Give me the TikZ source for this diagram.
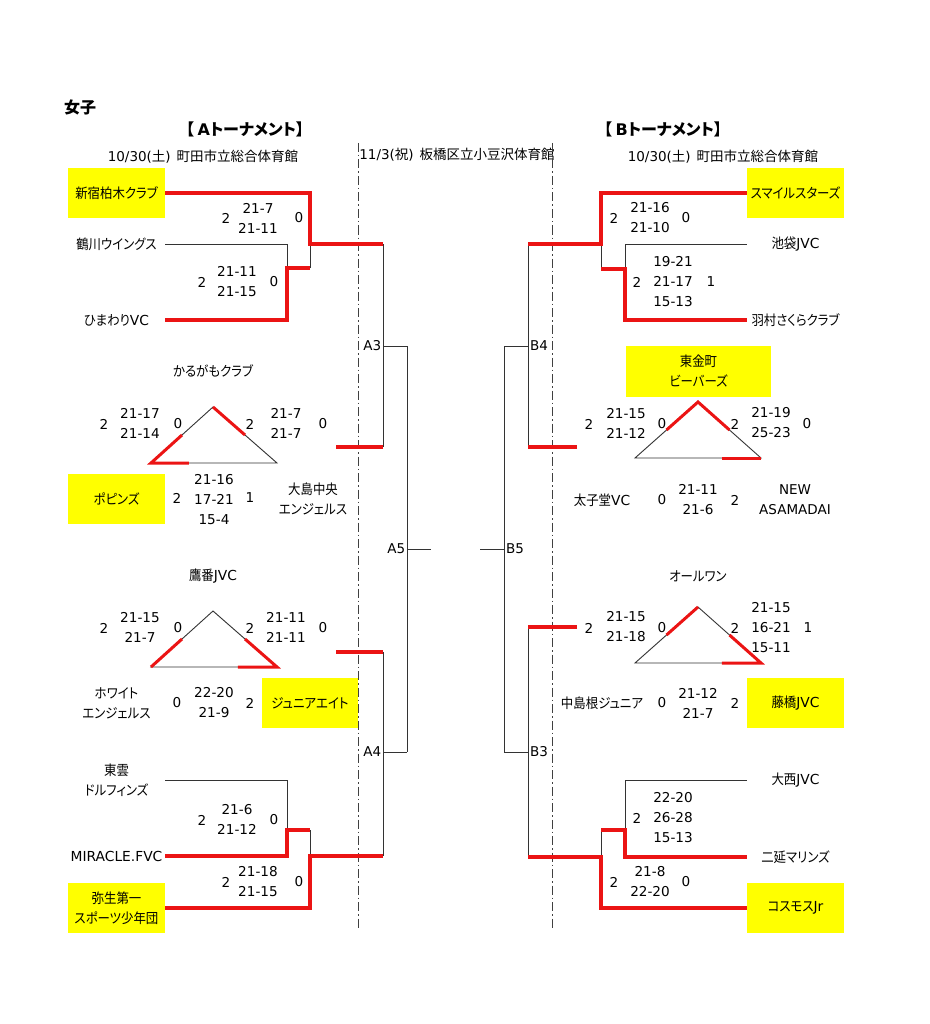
\documentclass[tikz,border=0pt]{standalone}
\usepackage{fontspec}
\setmainfont{Noto Sans CJK JP}[RawFeature=+palt]
\newfontfamily\tn{Noto Sans CJK JP}[RawFeature=+palt, FakeStretch=0.9]
\newfontfamily\lat{DejaVu Sans}
\usetikzlibrary{calc}
\definecolor{boxyellow}{RGB}{255,255,0}
\definecolor{lnred}{RGB}{235,20,20}
\begin{document}
\begin{tikzpicture}[x=1pt,y=-1pt,
  every node/.style={font=\fontsize{13.5}{20}\selectfont, inner sep=0pt, align=center},
  nm/.style={font=\tn\fontsize{13.8}{20}\selectfont},
  team/.style={nm, minimum width=97pt, minimum height=50pt},
  win/.style={team, fill=boxyellow},
  sc/.style={font=\lat\fontsize{13.6}{20}\selectfont},
  hd/.style={font=\fontsize{16}{20}\selectfont\bfseries},
  ln/.style={line width=0.9pt, black!80},
  rl/.style={line width=3.5pt, lnred},
  dd/.style={line width=1pt, black!75, dash pattern=on 9pt off 3pt on 1.5pt off 3pt}]
\useasboundingbox (0,0) rectangle (929,1024);

% headers
\node[hd] (title) at (80,107) {女子};
\node[hd] (ha) at (245,129) {【 {\lat A}トーナメント】};
\node[hd] (hb) at (663,129) {【 {\lat B}トーナメント】};
\node (da) at (203,157) {{\lat 10/30(}土{\lat )}\hspace{6pt}町田市立総合体育館};
\node (db) at (723,157) {{\lat 10/30(}土{\lat )}\hspace{6pt}町田市立総合体育館};
\node (dm) at (457,155) {{\lat 11/3(}祝{\lat )}\hspace{6pt}板橋区立小豆沢体育館};

% dash-dot separators
\coordinate (d1t) at (358,143); \coordinate (d1b) at (358,930);
\coordinate (d2t) at (552,143); \coordinate (d2b) at (552,930);
\draw[dd] (d1t) -- (d1b);
\draw[dd] (d2t) -- (d2b);

% ---------- A side teams ----------
\node[win] (a1) at (116.5,193) {新宿柏木クラブ};
\node[team] (a2) at (116.5,244) {鶴川ウイングス};
\node[team] (a3) at (116.5,320) {ひまわり{\lat VC}};
\node[nm] (a9) at (213,371) {かるがもクラブ};
\node[win] (a4) at (116.5,499) {ポピンズ};
\node[team] (a5) at (313,499) {大島中央\\エンジェルス};
\node[nm] (a10) at (213,576) {鷹番{\lat JVC}};
\node[team] (a11) at (116.5,703) {ホワイト\\エンジェルス};
\node[win, minimum width=96pt] (a12) at (310,703) {ジュニアエイト};
\node[team] (a6) at (116.5,780) {東雲\\ドルフィンズ};
\node[team] (a7) at (116.5,856) {\lat MIRACLE.FVC};
\node[win] (a8) at (116.5,908) {弥生第一\\スポーツ少年団};

% ---------- B side teams ----------
\node[win] (b1) at (795.5,193) {スマイルスターズ};
\node[team] (b2) at (795.5,244) {池袋{\lat JVC}};
\node[team] (b3) at (795.5,320) {羽村さくらクラブ};
\node[win, minimum width=145pt, minimum height=51pt] (b4) at (698.5,371.5) {東金町\\ビーバーズ};
\node[nm] (b5) at (602,500) {太子堂{\lat VC}};
\node[font=\lat\fontsize{13.5}{20}\selectfont] (b9) at (795,500) {NEW\\ASAMADAI};
\node[nm] (b10) at (698,576) {オールワン};
\node[nm] (b11) at (602,703) {中島根ジュニア};
\node[win] (b12) at (795.5,703) {藤橋{\lat JVC}};
\node[team] (b6) at (795.5,780) {大西{\lat JVC}};
\node[team] (b7) at (795.5,857) {二延マリンズ};
\node[win] (b8) at (795.5,908) {コスモス{\lat Jr}};

% ---------- A bracket coordinates ----------
\coordinate (j1) at (287,268); \coordinate (j1r) at (310,268); \coordinate (j2) at (310,244);
\coordinate (k1) at (287,830); \coordinate (k1r) at (310,830); \coordinate (k2) at (310,856);
\coordinate (A3t) at (383,244); \coordinate (A3m) at (383,346); \coordinate (A3b) at (383,447);
\coordinate (A4t) at (383,652); \coordinate (A4m) at (383,752); \coordinate (A4b) at (383,856);
\coordinate (A5t) at (407,346); \coordinate (A5m) at (407,549); \coordinate (A5b) at (407,752);
\coordinate (A5e) at (431,549);
\coordinate (ra3) at (336,447); \coordinate (ra4) at (336,652);

% ---------- B bracket coordinates ----------
\coordinate (m1) at (625,269); \coordinate (m1l) at (601,269); \coordinate (m2) at (601,244);
\coordinate (n1) at (625,830); \coordinate (n1l) at (601,830); \coordinate (n2) at (601,857);
\coordinate (B4t) at (528,244); \coordinate (B4m) at (528,346); \coordinate (B4b) at (528,447);
\coordinate (B3t) at (528,627); \coordinate (B3m) at (528,752); \coordinate (B3b) at (528,857);
\coordinate (B5t) at (504,346); \coordinate (B5m) at (504,549); \coordinate (B5b) at (504,752);
\coordinate (B5e) at (480,549);
\coordinate (rb4) at (577,447); \coordinate (rb3) at (577,627);

% black bracket lines
\draw[ln] (a2.east) -| (j1);
\draw[ln] (j1r) -- (j2);
\draw[ln] (a6.east) -| (k1);
\draw[ln] (k1r) -- (k2);
\draw[ln] (A3t) -- (A3b);
\draw[ln] (A4t) -- (A4b);
\draw[ln] (A3m) -- (A5t);
\draw[ln] (A4m) -- (A5b);
\draw[ln] (A5t) -- (A5b);
\draw[ln] (A5m) -- (A5e);
\draw[ln] (b2.west) -| (m1);
\draw[ln] (m1l) -- (m2);
\draw[ln] (b6.west) -| (n1);
\draw[ln] (n1l) -- (n2);
\draw[ln] (B4t) -- (B4b);
\draw[ln] (B3t) -- (B3b);
\draw[ln] (B4m) -- (B5t);
\draw[ln] (B3m) -- (B5b);
\draw[ln] (B5t) -- (B5b);
\draw[ln] (B5m) -- (B5e);

% round labels
\begin{scope}[every node/.append style={font=\lat\fontsize{13.5}{20}\selectfont}]
\node[anchor=east] (lA3) at (381.5,346) {A3};
\node[anchor=east] (lA4) at (381.5,752) {A4};
\node[anchor=east] (lA5) at (405.5,549) {A5};
\node[anchor=west] (lB4) at (530,346) {B4};
\node[anchor=west] (lB3) at (530,752) {B3};
\node[anchor=west] (lB5) at (506,549) {B5};
\end{scope}

% red winner paths
\draw[rl] (a3.east) -| (j1) -- (j1r);
\draw[rl] (a1.east) -| (j2) -- (A3t);
\draw[rl] (a7.east) -| (k1) -- (k1r);
\draw[rl] (a8.east) -| (k2) -- (A4b);
\draw[rl] (ra3) -- (A3b);
\draw[rl] (ra4) -- (A4t);
\draw[rl] (b3.west) -| (m1) -- (m1l);
\draw[rl] (b1.west) -| (m2) -- (B4t);
\draw[rl] (b7.west) -| (n1) -- (n1l);
\draw[rl] (b8.west) -| (n2) -- (B3b);
\draw[rl] (rb4) -- (B4b);
\draw[rl] (rb3) -- (B3t);

% ---------- triangles ----------
\coordinate (t1a) at (213,407); \coordinate (t1l) at (151,463); \coordinate (t1r) at (277,463);
\coordinate (t2a) at (213,611); \coordinate (t2l) at (151,667); \coordinate (t2r) at (277,667);
\coordinate (t3a) at (698,402); \coordinate (t3l) at (635,458); \coordinate (t3r) at (761,458);
\coordinate (t4a) at (698,607); \coordinate (t4l) at (635,663); \coordinate (t4r) at (761,663);
\draw[ln] (t1a) -- (t1l) -- (t1r) -- cycle;
\draw[ln] (t2a) -- (t2l) -- (t2r) -- cycle;
\draw[ln] (t3a) -- (t3l) -- (t3r) -- cycle;
\draw[ln] (t4a) -- (t4l) -- (t4r) -- cycle;
\begin{scope}[rl, line width=3pt]
\draw ($(t1a)!0.5!(t1l)$) -- (t1l) -- ($(t1l)!0.3!(t1r)$);
\draw (t1a) -- ($(t1a)!0.5!(t1r)$);
\draw ($(t2a)!0.5!(t2l)$) -- (t2l);
\draw ($(t2a)!0.5!(t2r)$) -- (t2r) -- ($(t2r)!0.31!(t2l)$);
\draw ($(t3a)!0.5!(t3l)$) -- (t3a) -- ($(t3a)!0.5!(t3r)$);
\draw (t3r) -- ($(t3r)!0.31!(t3l)$);
\draw ($(t4a)!0.5!(t4l)$) -- (t4a);
\draw ($(t4a)!0.5!(t4r)$) -- (t4r) -- ($(t4r)!0.31!(t4l)$);
\end{scope}

% ---------- scores A ----------
\node[sc] (s1) at (226,218) {2};
\node[sc] (s2) at (258,218) {21-7\\21-11};
\node[sc] (s3) at (299,218) {0};
\node[sc] (s4) at (202,282) {2};
\node[sc] (s5) at (237,282) {21-11\\21-15};
\node[sc] (s6) at (274,282) {0};
\node[sc] (s7) at (104,424) {2};
\node[sc] (s8) at (140,423) {21-17\\21-14};
\node[sc] (s9) at (178,424) {0};
\node[sc] (s10) at (250,424) {2};
\node[sc] (s11) at (286,423) {21-7\\21-7};
\node[sc] (s12) at (323,424) {0};
\node[sc] (s13) at (177,498) {2};
\node[sc] (s14) at (214,500) {21-16\\17-21\\15-4};
\node[sc] (s15) at (250,498) {1};
\node[sc] (s16) at (104,628) {2};
\node[sc] (s17) at (140,627) {21-15\\21-7};
\node[sc] (s18) at (178,628) {0};
\node[sc] (s19) at (250,628) {2};
\node[sc] (s20) at (286,627) {21-11\\21-11};
\node[sc] (s21) at (323,628) {0};
\node[sc] (s22) at (177,703) {0};
\node[sc] (s23) at (214,703) {22-20\\21-9};
\node[sc] (s24) at (250,703) {2};
\node[sc] (s25) at (202,820) {2};
\node[sc] (s26) at (237,819) {21-6\\21-12};
\node[sc] (s27) at (274,820) {0};
\node[sc] (s28) at (226,882) {2};
\node[sc] (s29) at (258,882) {21-18\\21-15};
\node[sc] (s30) at (299,882) {0};

% ---------- scores B ----------
\node[sc] (u1) at (614,218) {2};
\node[sc] (u2) at (650,218) {21-16\\21-10};
\node[sc] (u3) at (686,218) {0};
\node[sc] (u4) at (637,282) {2};
\node[sc] (u5) at (673,282) {19-21\\21-17\\15-13};
\node[sc] (u6) at (711,282) {1};
\node[sc] (u7) at (589,424) {2};
\node[sc] (u8) at (626,423) {21-15\\21-12};
\node[sc] (u9) at (662,424) {0};
\node[sc] (u10) at (735,424) {2};
\node[sc] (u11) at (771,423) {21-19\\25-23};
\node[sc] (u12) at (807,424) {0};
\node[sc] (u13) at (662,500) {0};
\node[sc] (u14) at (698,500) {21-11\\21-6};
\node[sc] (u15) at (735,500) {2};
\node[sc] (u16) at (589,628) {2};
\node[sc] (u17) at (626,627) {21-15\\21-18};
\node[sc] (u18) at (662,628) {0};
\node[sc] (u19) at (735,628) {2};
\node[sc] (u20) at (771,628) {21-15\\16-21\\15-11};
\node[sc] (u21) at (808,628) {1};
\node[sc] (u22) at (662,703) {0};
\node[sc] (u23) at (698,703) {21-12\\21-7};
\node[sc] (u24) at (735,703) {2};
\node[sc] (u25) at (637,818) {2};
\node[sc] (u26) at (673,818) {22-20\\26-28\\15-13};
\node[sc] (u28) at (614,882) {2};
\node[sc] (u29) at (650,882) {21-8\\22-20};
\node[sc] (u30) at (686,882) {0};
\end{tikzpicture}
\end{document}
